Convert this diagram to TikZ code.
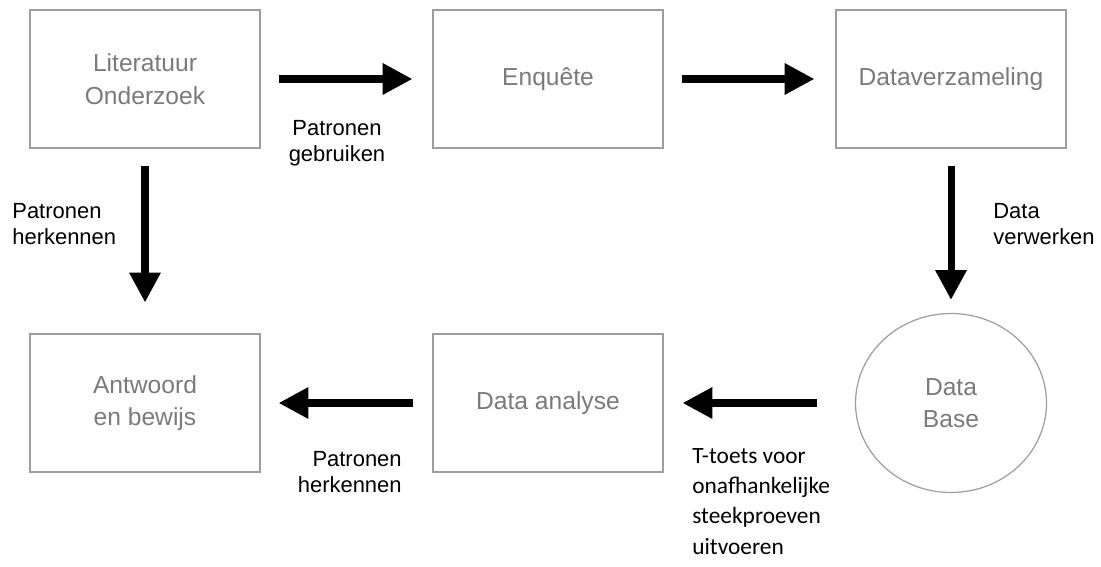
\documentclass[tikz,border=0pt]{standalone}
\usepackage{fontspec}
\setmainfont{Liberation Sans}
\newfontfamily\carlito{Carlito}
\usetikzlibrary{arrows.meta,positioning,shapes.geometric}
\definecolor{boxgray}{HTML}{9E9E9E}
\definecolor{txtgray}{HTML}{7A7A7A}

\begin{document}
\begin{tikzpicture}[x=0.02cm,y=-0.02cm,
  blok/.style={draw=boxgray, line width=0.7pt, minimum width=4.6cm, minimum height=2.76cm, inner sep=0pt, align=center, text=txtgray, font=\fontsize{14}{18.5}\selectfont},
  pijl/.style={line width=4pt, -{Triangle[length=17pt,width=17pt]}},
  uitleg/.style={inner sep=0pt, font=\fontsize{12.5}{15}\selectfont}]
\useasboundingbox (0,0) rectangle (1101,567);
\node [blok] (lit) at (145,79) {Literatuur\\Onderzoek};
\node [blok] (enq) at (548,79) {Enquête};
\node [blok] (dataverz) at (951,79) {Dataverzameling};
\node [blok] (antw) at (145,403) {Antwoord\\en bewijs};
\node [blok] (analyse) at (548,403) {Data analyse};
\node [blok, ellipse, minimum width=3.82cm, minimum height=3.58cm] (dbase) at (951,403) {Data\\Base};
% pijlen
\draw[pijl, shorten <=0.36cm, shorten >=0.4cm] (lit) -- (enq);
\draw[pijl, shorten <=0.36cm, shorten >=0.42cm] (enq) -- (dataverz);
\draw[pijl, shorten <=0.34cm, shorten >=0.62cm] (lit) -- (antw);
\draw[pijl, shorten <=0.34cm, shorten >=0.26cm] (dataverz) -- (dbase);
\draw[pijl, shorten <=0.76cm, shorten >=0.38cm] (dbase) -- (analyse);
\draw[pijl, shorten <=0.38cm, shorten >=0.36cm] (analyse) -- (antw);
% labels
\node [uitleg, anchor=north, align=center] (gebruiken) at (337,120) {Patronen\\gebruiken};
\node [uitleg, anchor=north west, align=left] (herkennen) at (12,203) {Patronen\\herkennen};
\node [uitleg, anchor=north west, align=left] (verwerken) at (993,203) {Data\\verwerken};
\node [uitleg, anchor=north east, align=right] (herkennen2) at (402,451) {Patronen\\herkennen};
\node [uitleg, anchor=north west, align=left, font=\carlito\fontsize{13.3}{17.2}\selectfont] (ttoets) at (692,448) {T-toets voor\\onafhankelijke\\steekproeven\\uitvoeren};
\end{tikzpicture}
\end{document}
